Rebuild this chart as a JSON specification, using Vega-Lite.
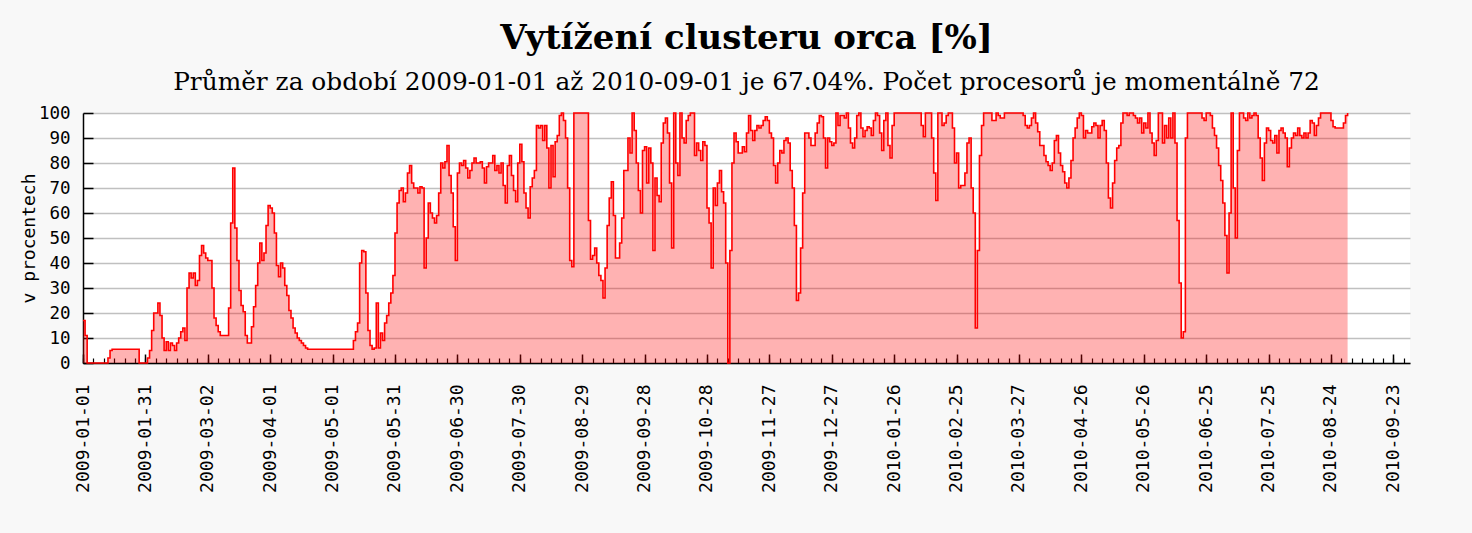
{
"$schema": "https://vega.github.io/schema/vega-lite/v6.json",
"width": 1327, "height": 250,
"autosize": {"type": "none"},
"padding": {"left": 83, "top": 113, "right": 62, "bottom": 170},
"background": "#f8f8f8",
"config": {"view": {"stroke": null, "fill": "#ffffff"}},
"title": {"text": "Vytížení clusteru orca [%]", "subtitle": "Průměr za období 2009-01-01 až 2010-09-01 je 67.04%. Počet procesorů je momentálně 72", "font": "DejaVu Serif", "fontSize": 34, "fontWeight": "bold", "color": "#000000", "subtitleFont": "DejaVu Serif", "subtitleFontSize": 24.8, "subtitleColor": "#000000", "subtitlePadding": 14, "offset": 9, "anchor": "middle", "frame": "group"},
"data": {"values": [
{"t":"2009-01-01","v":17},{"t":"2009-01-02","v":11},{"t":"2009-01-03","v":0},{"t":"2009-01-04","v":0},{"t":"2009-01-05","v":0},{"t":"2009-01-06","v":0},{"t":"2009-01-07","v":0},{"t":"2009-01-08","v":0},{"t":"2009-01-09","v":0},{"t":"2009-01-10","v":0},{"t":"2009-01-11","v":0},{"t":"2009-01-12","v":0},{"t":"2009-01-13","v":2},{"t":"2009-01-14","v":5},{"t":"2009-01-15","v":5.5},{"t":"2009-01-16","v":5.5},{"t":"2009-01-17","v":5.5},{"t":"2009-01-18","v":5.5},{"t":"2009-01-19","v":5.5},{"t":"2009-01-20","v":5.5},{"t":"2009-01-21","v":5.5},{"t":"2009-01-22","v":5.5},{"t":"2009-01-23","v":5.5},{"t":"2009-01-24","v":5.5},{"t":"2009-01-25","v":5.5},{"t":"2009-01-26","v":5.5},{"t":"2009-01-27","v":5.5},{"t":"2009-01-28","v":0},{"t":"2009-01-29","v":0},{"t":"2009-01-30","v":0},{"t":"2009-01-31","v":0},
{"t":"2009-02-01","v":2},{"t":"2009-02-02","v":5},{"t":"2009-02-03","v":13},{"t":"2009-02-04","v":20},{"t":"2009-02-05","v":20},{"t":"2009-02-06","v":24},{"t":"2009-02-07","v":19},{"t":"2009-02-08","v":10},{"t":"2009-02-09","v":5},{"t":"2009-02-10","v":8.5},{"t":"2009-02-11","v":5},{"t":"2009-02-12","v":8},{"t":"2009-02-13","v":7},{"t":"2009-02-14","v":5},{"t":"2009-02-15","v":8},{"t":"2009-02-16","v":10},{"t":"2009-02-17","v":12.5},{"t":"2009-02-18","v":14},{"t":"2009-02-19","v":9},{"t":"2009-02-20","v":30},{"t":"2009-02-21","v":36},{"t":"2009-02-22","v":34},{"t":"2009-02-23","v":36},{"t":"2009-02-24","v":31},{"t":"2009-02-25","v":33},{"t":"2009-02-26","v":43},{"t":"2009-02-27","v":47},{"t":"2009-02-28","v":44},
{"t":"2009-03-01","v":42},{"t":"2009-03-02","v":41},{"t":"2009-03-03","v":41},{"t":"2009-03-04","v":30},{"t":"2009-03-05","v":18},{"t":"2009-03-06","v":15},{"t":"2009-03-07","v":12.5},{"t":"2009-03-08","v":11},{"t":"2009-03-09","v":11},{"t":"2009-03-10","v":11},{"t":"2009-03-11","v":11},{"t":"2009-03-12","v":22},{"t":"2009-03-13","v":56},{"t":"2009-03-14","v":78},{"t":"2009-03-15","v":54},{"t":"2009-03-16","v":41},{"t":"2009-03-17","v":29},{"t":"2009-03-18","v":23},{"t":"2009-03-19","v":20.5},{"t":"2009-03-20","v":11},{"t":"2009-03-21","v":8},{"t":"2009-03-22","v":8},{"t":"2009-03-23","v":14.5},{"t":"2009-03-24","v":22.5},{"t":"2009-03-25","v":31},{"t":"2009-03-26","v":40},{"t":"2009-03-27","v":48},{"t":"2009-03-28","v":41},{"t":"2009-03-29","v":44},{"t":"2009-03-30","v":55},{"t":"2009-03-31","v":63},
{"t":"2009-04-01","v":62},{"t":"2009-04-02","v":60},{"t":"2009-04-03","v":52},{"t":"2009-04-04","v":39},{"t":"2009-04-05","v":34.5},{"t":"2009-04-06","v":40},{"t":"2009-04-07","v":38},{"t":"2009-04-08","v":31},{"t":"2009-04-09","v":27},{"t":"2009-04-10","v":21},{"t":"2009-04-11","v":18},{"t":"2009-04-12","v":14},{"t":"2009-04-13","v":12},{"t":"2009-04-14","v":10},{"t":"2009-04-15","v":9},{"t":"2009-04-16","v":8},{"t":"2009-04-17","v":7},{"t":"2009-04-18","v":6},{"t":"2009-04-19","v":5.5},{"t":"2009-04-20","v":5.5},{"t":"2009-04-21","v":5.5},{"t":"2009-04-22","v":5.5},{"t":"2009-04-23","v":5.5},{"t":"2009-04-24","v":5.5},{"t":"2009-04-25","v":5.5},{"t":"2009-04-26","v":5.5},{"t":"2009-04-27","v":5.5},{"t":"2009-04-28","v":5.5},{"t":"2009-04-29","v":5.5},{"t":"2009-04-30","v":5.5},
{"t":"2009-05-01","v":5.5},{"t":"2009-05-02","v":5.5},{"t":"2009-05-03","v":5.5},{"t":"2009-05-04","v":5.5},{"t":"2009-05-05","v":5.5},{"t":"2009-05-06","v":5.5},{"t":"2009-05-07","v":5.5},{"t":"2009-05-08","v":5.5},{"t":"2009-05-09","v":5.5},{"t":"2009-05-10","v":5.5},{"t":"2009-05-11","v":9},{"t":"2009-05-12","v":12.5},{"t":"2009-05-13","v":16},{"t":"2009-05-14","v":40},{"t":"2009-05-15","v":45},{"t":"2009-05-16","v":44.5},{"t":"2009-05-17","v":28},{"t":"2009-05-18","v":13},{"t":"2009-05-19","v":7},{"t":"2009-05-20","v":5.5},{"t":"2009-05-21","v":6},{"t":"2009-05-22","v":24},{"t":"2009-05-23","v":6},{"t":"2009-05-24","v":12},{"t":"2009-05-25","v":9},{"t":"2009-05-26","v":16},{"t":"2009-05-27","v":19},{"t":"2009-05-28","v":24},{"t":"2009-05-29","v":28},{"t":"2009-05-30","v":35},{"t":"2009-05-31","v":52},
{"t":"2009-06-01","v":64},{"t":"2009-06-02","v":69},{"t":"2009-06-03","v":70},{"t":"2009-06-04","v":64.5},{"t":"2009-06-05","v":68},{"t":"2009-06-06","v":76},{"t":"2009-06-07","v":79},{"t":"2009-06-08","v":72},{"t":"2009-06-09","v":70},{"t":"2009-06-10","v":70},{"t":"2009-06-11","v":68},{"t":"2009-06-12","v":70.5},{"t":"2009-06-13","v":70},{"t":"2009-06-14","v":38},{"t":"2009-06-15","v":50},{"t":"2009-06-16","v":64},{"t":"2009-06-17","v":60},{"t":"2009-06-18","v":58},{"t":"2009-06-19","v":56},{"t":"2009-06-20","v":59},{"t":"2009-06-21","v":68},{"t":"2009-06-22","v":80},{"t":"2009-06-23","v":78},{"t":"2009-06-24","v":80.5},{"t":"2009-06-25","v":87},{"t":"2009-06-26","v":75},{"t":"2009-06-27","v":68},{"t":"2009-06-28","v":54.5},{"t":"2009-06-29","v":41},{"t":"2009-06-30","v":76},
{"t":"2009-07-01","v":80},{"t":"2009-07-02","v":79},{"t":"2009-07-03","v":81},{"t":"2009-07-04","v":78},{"t":"2009-07-05","v":74},{"t":"2009-07-06","v":77},{"t":"2009-07-07","v":80},{"t":"2009-07-08","v":82},{"t":"2009-07-09","v":80},{"t":"2009-07-10","v":80},{"t":"2009-07-11","v":80.5},{"t":"2009-07-12","v":78},{"t":"2009-07-13","v":72},{"t":"2009-07-14","v":78.5},{"t":"2009-07-15","v":80},{"t":"2009-07-16","v":80},{"t":"2009-07-17","v":83},{"t":"2009-07-18","v":77},{"t":"2009-07-19","v":79},{"t":"2009-07-20","v":76},{"t":"2009-07-21","v":80},{"t":"2009-07-22","v":71},{"t":"2009-07-23","v":64},{"t":"2009-07-24","v":79},{"t":"2009-07-25","v":83},{"t":"2009-07-26","v":75},{"t":"2009-07-27","v":69},{"t":"2009-07-28","v":64.5},{"t":"2009-07-29","v":80},{"t":"2009-07-30","v":87.5},{"t":"2009-07-31","v":80.5},
{"t":"2009-08-01","v":68},{"t":"2009-08-02","v":62},{"t":"2009-08-03","v":58},{"t":"2009-08-04","v":70.5},{"t":"2009-08-05","v":74},{"t":"2009-08-06","v":77},{"t":"2009-08-07","v":95},{"t":"2009-08-08","v":94},{"t":"2009-08-09","v":95},{"t":"2009-08-10","v":89},{"t":"2009-08-11","v":95},{"t":"2009-08-12","v":86},{"t":"2009-08-13","v":70},{"t":"2009-08-14","v":87},{"t":"2009-08-15","v":74.5},{"t":"2009-08-16","v":88.5},{"t":"2009-08-17","v":91},{"t":"2009-08-18","v":99},{"t":"2009-08-19","v":100},{"t":"2009-08-20","v":97},{"t":"2009-08-21","v":90},{"t":"2009-08-22","v":70},{"t":"2009-08-23","v":41},{"t":"2009-08-24","v":38.5},{"t":"2009-08-25","v":100},{"t":"2009-08-26","v":100},{"t":"2009-08-27","v":100},{"t":"2009-08-28","v":100},{"t":"2009-08-29","v":100},{"t":"2009-08-30","v":100},{"t":"2009-08-31","v":100},
{"t":"2009-09-01","v":57},{"t":"2009-09-02","v":41.5},{"t":"2009-09-03","v":43},{"t":"2009-09-04","v":46},{"t":"2009-09-05","v":40},{"t":"2009-09-06","v":35},{"t":"2009-09-07","v":33},{"t":"2009-09-08","v":26},{"t":"2009-09-09","v":38},{"t":"2009-09-10","v":55},{"t":"2009-09-11","v":66},{"t":"2009-09-12","v":72.5},{"t":"2009-09-13","v":59},{"t":"2009-09-14","v":42},{"t":"2009-09-15","v":42},{"t":"2009-09-16","v":48},{"t":"2009-09-17","v":58},{"t":"2009-09-18","v":77},{"t":"2009-09-19","v":77},{"t":"2009-09-20","v":90},{"t":"2009-09-21","v":84},{"t":"2009-09-22","v":100},{"t":"2009-09-23","v":93},{"t":"2009-09-24","v":80},{"t":"2009-09-25","v":69},{"t":"2009-09-26","v":60},{"t":"2009-09-27","v":85},{"t":"2009-09-28","v":86.5},{"t":"2009-09-29","v":72},{"t":"2009-09-30","v":86},
{"t":"2009-10-01","v":80},{"t":"2009-10-02","v":45},{"t":"2009-10-03","v":74},{"t":"2009-10-04","v":67},{"t":"2009-10-05","v":64.5},{"t":"2009-10-06","v":88},{"t":"2009-10-07","v":96},{"t":"2009-10-08","v":98},{"t":"2009-10-09","v":92},{"t":"2009-10-10","v":72},{"t":"2009-10-11","v":46},{"t":"2009-10-12","v":100},{"t":"2009-10-13","v":80},{"t":"2009-10-14","v":75},{"t":"2009-10-15","v":100},{"t":"2009-10-16","v":90},{"t":"2009-10-17","v":88},{"t":"2009-10-18","v":97},{"t":"2009-10-19","v":99},{"t":"2009-10-20","v":100},{"t":"2009-10-21","v":100},{"t":"2009-10-22","v":83},{"t":"2009-10-23","v":88},{"t":"2009-10-24","v":85},{"t":"2009-10-25","v":81},{"t":"2009-10-26","v":88.5},{"t":"2009-10-27","v":87},{"t":"2009-10-28","v":62},{"t":"2009-10-29","v":56},{"t":"2009-10-30","v":38},{"t":"2009-10-31","v":70},
{"t":"2009-11-01","v":63},{"t":"2009-11-02","v":72},{"t":"2009-11-03","v":77},{"t":"2009-11-04","v":68.5},{"t":"2009-11-05","v":64},{"t":"2009-11-06","v":40},{"t":"2009-11-07","v":0},{"t":"2009-11-08","v":45},{"t":"2009-11-09","v":80},{"t":"2009-11-10","v":92},{"t":"2009-11-11","v":88.5},{"t":"2009-11-12","v":84},{"t":"2009-11-13","v":84},{"t":"2009-11-14","v":86.5},{"t":"2009-11-15","v":84.5},{"t":"2009-11-16","v":92},{"t":"2009-11-17","v":99},{"t":"2009-11-18","v":93},{"t":"2009-11-19","v":89},{"t":"2009-11-20","v":93},{"t":"2009-11-21","v":95},{"t":"2009-11-22","v":94},{"t":"2009-11-23","v":95},{"t":"2009-11-24","v":97},{"t":"2009-11-25","v":98.5},{"t":"2009-11-26","v":97},{"t":"2009-11-27","v":92},{"t":"2009-11-28","v":90},{"t":"2009-11-29","v":79},{"t":"2009-11-30","v":72},
{"t":"2009-12-01","v":80},{"t":"2009-12-02","v":85},{"t":"2009-12-03","v":84},{"t":"2009-12-04","v":89},{"t":"2009-12-05","v":90},{"t":"2009-12-06","v":88},{"t":"2009-12-07","v":77},{"t":"2009-12-08","v":70},{"t":"2009-12-09","v":55},{"t":"2009-12-10","v":25},{"t":"2009-12-11","v":28},{"t":"2009-12-12","v":46},{"t":"2009-12-13","v":68},{"t":"2009-12-14","v":92},{"t":"2009-12-15","v":92},{"t":"2009-12-16","v":90},{"t":"2009-12-17","v":87},{"t":"2009-12-18","v":87},{"t":"2009-12-19","v":92},{"t":"2009-12-20","v":96},{"t":"2009-12-21","v":99},{"t":"2009-12-22","v":98.5},{"t":"2009-12-23","v":90},{"t":"2009-12-24","v":78},{"t":"2009-12-25","v":90},{"t":"2009-12-26","v":88.5},{"t":"2009-12-27","v":87},{"t":"2009-12-28","v":88},{"t":"2009-12-29","v":100},{"t":"2009-12-30","v":95},{"t":"2009-12-31","v":99},
{"t":"2010-01-01","v":99},{"t":"2010-01-02","v":98},{"t":"2010-01-03","v":100},{"t":"2010-01-04","v":94},{"t":"2010-01-05","v":88},{"t":"2010-01-06","v":86},{"t":"2010-01-07","v":90},{"t":"2010-01-08","v":99},{"t":"2010-01-09","v":100},{"t":"2010-01-10","v":94},{"t":"2010-01-11","v":90.5},{"t":"2010-01-12","v":93},{"t":"2010-01-13","v":94.5},{"t":"2010-01-14","v":94},{"t":"2010-01-15","v":91},{"t":"2010-01-16","v":97},{"t":"2010-01-17","v":100},{"t":"2010-01-18","v":99},{"t":"2010-01-19","v":92},{"t":"2010-01-20","v":85},{"t":"2010-01-21","v":97},{"t":"2010-01-22","v":100},{"t":"2010-01-23","v":87},{"t":"2010-01-24","v":82},{"t":"2010-01-25","v":95},{"t":"2010-01-26","v":100},{"t":"2010-01-27","v":100},{"t":"2010-01-28","v":100},{"t":"2010-01-29","v":100},{"t":"2010-01-30","v":100},{"t":"2010-01-31","v":100},
{"t":"2010-02-01","v":100},{"t":"2010-02-02","v":100},{"t":"2010-02-03","v":100},{"t":"2010-02-04","v":100},{"t":"2010-02-05","v":100},{"t":"2010-02-06","v":100},{"t":"2010-02-07","v":100},{"t":"2010-02-08","v":95},{"t":"2010-02-09","v":90.5},{"t":"2010-02-10","v":100},{"t":"2010-02-11","v":100},{"t":"2010-02-12","v":100},{"t":"2010-02-13","v":90},{"t":"2010-02-14","v":76},{"t":"2010-02-15","v":65},{"t":"2010-02-16","v":100},{"t":"2010-02-17","v":100},{"t":"2010-02-18","v":95},{"t":"2010-02-19","v":96},{"t":"2010-02-20","v":99},{"t":"2010-02-21","v":100},{"t":"2010-02-22","v":100},{"t":"2010-02-23","v":94},{"t":"2010-02-24","v":80},{"t":"2010-02-25","v":84},{"t":"2010-02-26","v":70},{"t":"2010-02-27","v":71},{"t":"2010-02-28","v":71},
{"t":"2010-03-01","v":76},{"t":"2010-03-02","v":88},{"t":"2010-03-03","v":90},{"t":"2010-03-04","v":70},{"t":"2010-03-05","v":60},{"t":"2010-03-06","v":14},{"t":"2010-03-07","v":45},{"t":"2010-03-08","v":83},{"t":"2010-03-09","v":95},{"t":"2010-03-10","v":100},{"t":"2010-03-11","v":100},{"t":"2010-03-12","v":100},{"t":"2010-03-13","v":100},{"t":"2010-03-14","v":97},{"t":"2010-03-15","v":97},{"t":"2010-03-16","v":100},{"t":"2010-03-17","v":99},{"t":"2010-03-18","v":98},{"t":"2010-03-19","v":98},{"t":"2010-03-20","v":100},{"t":"2010-03-21","v":100},{"t":"2010-03-22","v":100},{"t":"2010-03-23","v":100},{"t":"2010-03-24","v":100},{"t":"2010-03-25","v":100},{"t":"2010-03-26","v":100},{"t":"2010-03-27","v":100},{"t":"2010-03-28","v":100},{"t":"2010-03-29","v":99},{"t":"2010-03-30","v":95},{"t":"2010-03-31","v":94},
{"t":"2010-04-01","v":95},{"t":"2010-04-02","v":98},{"t":"2010-04-03","v":100},{"t":"2010-04-04","v":96},{"t":"2010-04-05","v":92.5},{"t":"2010-04-06","v":87},{"t":"2010-04-07","v":87},{"t":"2010-04-08","v":83},{"t":"2010-04-09","v":80.5},{"t":"2010-04-10","v":79},{"t":"2010-04-11","v":77},{"t":"2010-04-12","v":80},{"t":"2010-04-13","v":89},{"t":"2010-04-14","v":91},{"t":"2010-04-15","v":84},{"t":"2010-04-16","v":79},{"t":"2010-04-17","v":76.5},{"t":"2010-04-18","v":72},{"t":"2010-04-19","v":70},{"t":"2010-04-20","v":74},{"t":"2010-04-21","v":81},{"t":"2010-04-22","v":90},{"t":"2010-04-23","v":94},{"t":"2010-04-24","v":98},{"t":"2010-04-25","v":100},{"t":"2010-04-26","v":99},{"t":"2010-04-27","v":90},{"t":"2010-04-28","v":93},{"t":"2010-04-29","v":92},{"t":"2010-04-30","v":92},
{"t":"2010-05-01","v":94.5},{"t":"2010-05-02","v":96},{"t":"2010-05-03","v":95},{"t":"2010-05-04","v":90},{"t":"2010-05-05","v":95},{"t":"2010-05-06","v":97},{"t":"2010-05-07","v":93},{"t":"2010-05-08","v":80},{"t":"2010-05-09","v":66},{"t":"2010-05-10","v":62},{"t":"2010-05-11","v":72},{"t":"2010-05-12","v":81},{"t":"2010-05-13","v":86},{"t":"2010-05-14","v":87},{"t":"2010-05-15","v":96},{"t":"2010-05-16","v":100},{"t":"2010-05-17","v":100},{"t":"2010-05-18","v":99},{"t":"2010-05-19","v":100},{"t":"2010-05-20","v":100},{"t":"2010-05-21","v":99},{"t":"2010-05-22","v":98},{"t":"2010-05-23","v":96},{"t":"2010-05-24","v":98},{"t":"2010-05-25","v":92},{"t":"2010-05-26","v":96},{"t":"2010-05-27","v":94},{"t":"2010-05-28","v":100},{"t":"2010-05-29","v":92},{"t":"2010-05-30","v":88},{"t":"2010-05-31","v":83},
{"t":"2010-06-01","v":89},{"t":"2010-06-02","v":100},{"t":"2010-06-03","v":100},{"t":"2010-06-04","v":88},{"t":"2010-06-05","v":95},{"t":"2010-06-06","v":90},{"t":"2010-06-07","v":98},{"t":"2010-06-08","v":90},{"t":"2010-06-09","v":100},{"t":"2010-06-10","v":88},{"t":"2010-06-11","v":57},{"t":"2010-06-12","v":32},{"t":"2010-06-13","v":10},{"t":"2010-06-14","v":12.5},{"t":"2010-06-15","v":90},{"t":"2010-06-16","v":100},{"t":"2010-06-17","v":100},{"t":"2010-06-18","v":100},{"t":"2010-06-19","v":100},{"t":"2010-06-20","v":100},{"t":"2010-06-21","v":100},{"t":"2010-06-22","v":100},{"t":"2010-06-23","v":98},{"t":"2010-06-24","v":97},{"t":"2010-06-25","v":100},{"t":"2010-06-26","v":100},{"t":"2010-06-27","v":99},{"t":"2010-06-28","v":94},{"t":"2010-06-29","v":91},{"t":"2010-06-30","v":86},
{"t":"2010-07-01","v":79},{"t":"2010-07-02","v":73},{"t":"2010-07-03","v":64},{"t":"2010-07-04","v":51},{"t":"2010-07-05","v":36},{"t":"2010-07-06","v":60},{"t":"2010-07-07","v":100},{"t":"2010-07-08","v":70},{"t":"2010-07-09","v":50},{"t":"2010-07-10","v":85},{"t":"2010-07-11","v":100},{"t":"2010-07-12","v":100},{"t":"2010-07-13","v":98},{"t":"2010-07-14","v":97},{"t":"2010-07-15","v":100},{"t":"2010-07-16","v":98},{"t":"2010-07-17","v":99},{"t":"2010-07-18","v":100},{"t":"2010-07-19","v":99},{"t":"2010-07-20","v":90},{"t":"2010-07-21","v":82},{"t":"2010-07-22","v":73},{"t":"2010-07-23","v":88},{"t":"2010-07-24","v":94},{"t":"2010-07-25","v":93},{"t":"2010-07-26","v":89},{"t":"2010-07-27","v":88},{"t":"2010-07-28","v":91},{"t":"2010-07-29","v":84},{"t":"2010-07-30","v":93},{"t":"2010-07-31","v":94},
{"t":"2010-08-01","v":92},{"t":"2010-08-02","v":90},{"t":"2010-08-03","v":78.5},{"t":"2010-08-04","v":86},{"t":"2010-08-05","v":90},{"t":"2010-08-06","v":92},{"t":"2010-08-07","v":91},{"t":"2010-08-08","v":94},{"t":"2010-08-09","v":91},{"t":"2010-08-10","v":90},{"t":"2010-08-11","v":92},{"t":"2010-08-12","v":90},{"t":"2010-08-13","v":92},{"t":"2010-08-14","v":97},{"t":"2010-08-15","v":96},{"t":"2010-08-16","v":91},{"t":"2010-08-17","v":95},{"t":"2010-08-18","v":98},{"t":"2010-08-19","v":100},{"t":"2010-08-20","v":100},{"t":"2010-08-21","v":100},{"t":"2010-08-22","v":100},{"t":"2010-08-23","v":100},{"t":"2010-08-24","v":97},{"t":"2010-08-25","v":94.5},{"t":"2010-08-26","v":94},{"t":"2010-08-27","v":94},{"t":"2010-08-28","v":94},{"t":"2010-08-29","v":94},{"t":"2010-08-30","v":96},{"t":"2010-08-31","v":99},
{"t":"2010-09-01","v":100}
]},
"encoding": {
 "y": {"field": "v", "type": "quantitative", "scale": {"domain": [0, 100], "nice": false},
  "axis": {"values": [0,10,20,30,40,50,60,70,80,90,100], "title": "v procentech", "titleFont": "DejaVu Sans Mono", "titleFontSize": 18, "titleFontWeight": "normal", "titleColor": "#000000", "titlePadding": 0,
   "labelFont": "DejaVu Sans Mono", "labelFontSize": 17.5, "labelColor": "#000000", "labelPadding": 23, "labelFlush": false,
   "tickSize": -10, "tickColor": "#000000", "tickWidth": 1.5, "domainColor": "#000000", "domainWidth": 1.5,
   "grid": true, "gridColor": "#c0c0c0", "gridWidth": 1.5}}
},
"layer": [
 {"mark": {"type": "area", "interpolate": "step-after", "fill": "#ff0000", "fillOpacity": 0.3},
  "encoding": {"x": {"field": "t", "type": "temporal", "scale": {"type": "utc", "domain": [1230768000000, 1285891200000]},
   "axis": {"orient": "bottom", "title": null, "grid": false, "format": "%Y-%m-%d",
    "values": [1230768000000,1233360000000,1235952000000,1238544000000,1241136000000,1243728000000,1246320000000,1248912000000,1251504000000,1254096000000,1256688000000,1259280000000,1261872000000,1264464000000,1267056000000,1269648000000,1272240000000,1274832000000,1277424000000,1280016000000,1282608000000,1285200000000],
    "labelAngle": 270, "labelAlign": "right", "labelBaseline": "middle", "labelFont": "DejaVu Sans Mono", "labelFontSize": 18, "labelColor": "#000000", "labelPadding": 30, "labelOverlap": false, "labelFlush": false, "labelBound": false,
    "tickSize": -9, "tickColor": "#000000", "tickWidth": 1.5, "domainColor": "#000000", "domainWidth": 1.5}}}},
 {"mark": {"type": "line", "interpolate": "step-after", "stroke": "#ff0000", "strokeWidth": 1.6},
  "encoding": {"x": {"field": "t", "type": "temporal", "scale": {"type": "utc", "domain": [1230768000000, 1285891200000]},
   "axis": {"orient": "bottom", "title": null, "grid": false, "labels": false, "domain": false,
    "values": [1230768000000,1231200000000,1231632000000,1232064000000,1232496000000,1232928000000,1233360000000,1233792000000,1234224000000,1234656000000,1235088000000,1235520000000,1235952000000,1236384000000,1236816000000,1237248000000,1237680000000,1238112000000,1238544000000,1238976000000,1239408000000,1239840000000,1240272000000,1240704000000,1241136000000,1241568000000,1242000000000,1242432000000,1242864000000,1243296000000,1243728000000,1244160000000,1244592000000,1245024000000,1245456000000,1245888000000,1246320000000,1246752000000,1247184000000,1247616000000,1248048000000,1248480000000,1248912000000,1249344000000,1249776000000,1250208000000,1250640000000,1251072000000,1251504000000,1251936000000,1252368000000,1252800000000,1253232000000,1253664000000,1254096000000,1254528000000,1254960000000,1255392000000,1255824000000,1256256000000,1256688000000,1257120000000,1257552000000,1257984000000,1258416000000,1258848000000,1259280000000,1259712000000,1260144000000,1260576000000,1261008000000,1261440000000,1261872000000,1262304000000,1262736000000,1263168000000,1263600000000,1264032000000,1264464000000,1264896000000,1265328000000,1265760000000,1266192000000,1266624000000,1267056000000,1267488000000,1267920000000,1268352000000,1268784000000,1269216000000,1269648000000,1270080000000,1270512000000,1270944000000,1271376000000,1271808000000,1272240000000,1272672000000,1273104000000,1273536000000,1273968000000,1274400000000,1274832000000,1275264000000,1275696000000,1276128000000,1276560000000,1276992000000,1277424000000,1277856000000,1278288000000,1278720000000,1279152000000,1279584000000,1280016000000,1280448000000,1280880000000,1281312000000,1281744000000,1282176000000,1282608000000,1283040000000,1283472000000,1283904000000,1284336000000,1284768000000,1285200000000,1285632000000],
    "tickSize": -5, "tickColor": "#000000", "tickWidth": 1.2}}}}
],
"resolve": {"scale": {"x": "independent"}, "axis": {"x": "independent"}}
}
